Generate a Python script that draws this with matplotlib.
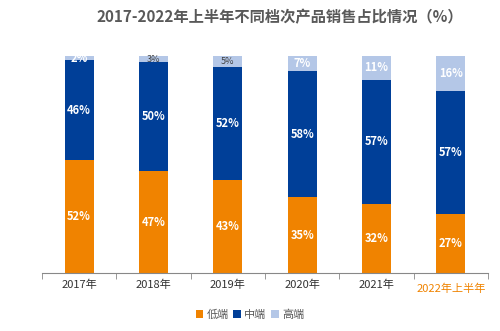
import matplotlib
matplotlib.use("Agg")
import matplotlib.pyplot as plt
import numpy as np

plt.rcParams["font.family"] = ["Noto Sans CJK SC", "DejaVu Sans"]

years = ["2017年", "2018年", "2019年", "2020年", "2021年", "2022年上半年"]
low = [52, 47, 43, 35, 32, 27]
mid = [46, 50, 52, 58, 57, 57]
high = [2, 3, 5, 7, 11, 16]

c_low = "#F08300"
c_mid = "#003F98"
c_high = "#B4C7E7"

fig = plt.figure(figsize=(5, 3.31), dpi=100)
ax = fig.add_axes([0.084, 0.175, 0.892, 0.656])

x = np.arange(len(years))
w = 0.39
ax.bar(x, low, w, color=c_low, label="低端")
ax.bar(x, mid, w, bottom=low, color=c_mid, label="中端")
bottom_high = np.array(low) + np.array(mid)
ax.bar(x, high, w, bottom=bottom_high, color=c_high, label="高端")

for i in range(len(years)):
    ax.text(x[i], low[i] / 2, f"{low[i]}%", ha="center", va="center",
            color="white", fontsize=8, fontweight="bold")
    ax.text(x[i], low[i] + mid[i] / 2, f"{mid[i]}%", ha="center", va="center",
            color="white", fontsize=8, fontweight="bold")
    yh = bottom_high[i] + high[i] / 2
    if high[i] in (3, 5):
        ax.text(x[i], yh, f"{high[i]}%", ha="center", va="center",
                color="#404040", fontsize=6.5)
    else:
        ax.text(x[i], yh, f"{high[i]}%", ha="center", va="center",
                color="white", fontsize=8, fontweight="bold")

ax.set_xlim(-0.5, len(years) - 0.5)
ax.set_ylim(0, 100)
ax.set_yticks([])
for s in ["top", "right", "left"]:
    ax.spines[s].set_visible(False)
ax.spines["bottom"].set_color("#888888")

ax.set_xticks(x)
ax.set_xticklabels(years, fontsize=8, color="#333333")
ax.tick_params(axis="x", which="major", length=0, pad=5)
ax.set_xticks(np.arange(-0.5, len(years)), minor=True)
ax.tick_params(axis="x", which="minor", length=4, color="#888888", direction="out")
last = ax.get_xticklabels()[-1]
last.set_color(c_low)
last.set_y(-0.015)

fig.text(0.56, 0.948, "2017-2022年上半年不同档次产品销售占比情况（%）", ha="center",
         va="center", fontsize=11, fontweight="bold", color="#595959")

fig.legend(loc="center", bbox_to_anchor=(0.5, 0.05), ncol=3, frameon=False,
           fontsize=8, handlelength=0.7, handleheight=0.7, handletextpad=0.3,
           columnspacing=0.4, labelcolor="#595959")

fig.savefig("out.png", dpi=100)
